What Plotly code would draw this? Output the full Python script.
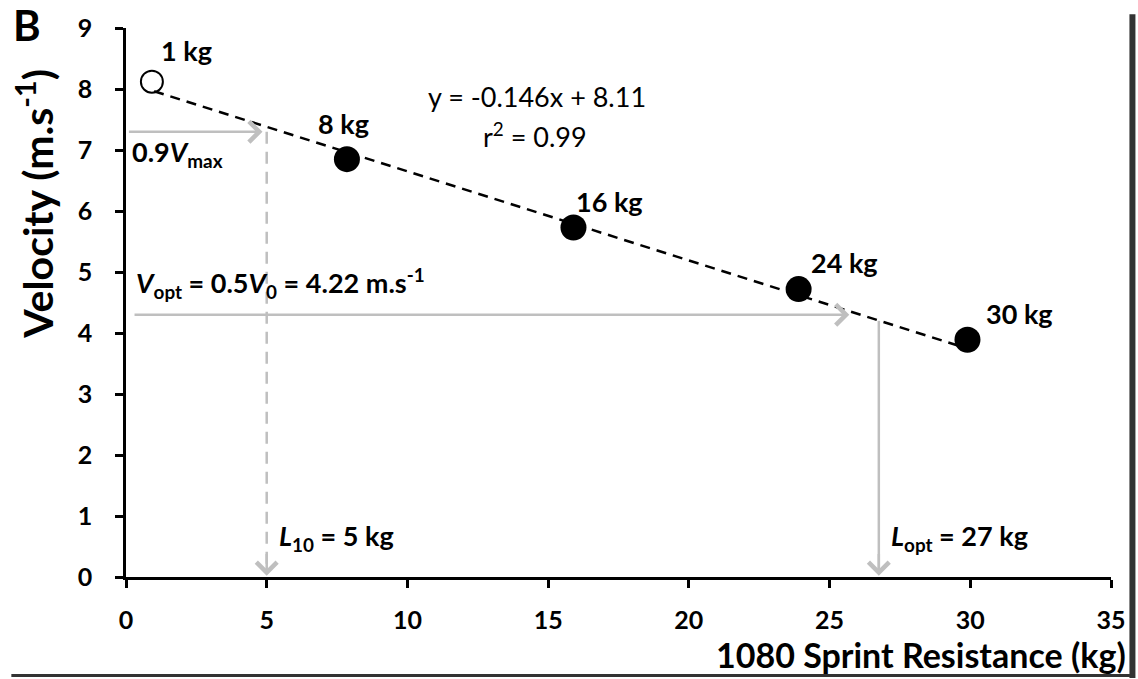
import plotly.graph_objects as go

# Sprint resistance loads and measured peak velocities
load_labels = ["1 kg", "8 kg", "16 kg", "24 kg", "30 kg"]
load_kg = [0.92, 7.85, 15.9, 23.9, 29.9]
velocity = [8.12, 6.85, 5.73, 4.72, 3.89]

# Linear load-velocity fit (y = slope * x + intercept)
slope = -0.146
intercept = 8.11
r_squared = 0.99
fit_range = [1, 30]

# Derived targets
v_max_frac = 0.9
l10_kg = 5
v_opt = 4.22
l_opt_kg = 27

x_ticks = [0, 5, 10, 15, 20, 25, 30, 35]
y_ticks = [0, 1, 2, 3, 4, 5, 6, 7, 8, 9]

W, H = 1138, 679
ML, MR, MT, MB = 126, 24, 23, 102
PW, PH = W - ML - MR, H - MT - MB

FONT = "Lato"
BLACK = "#000000"
GREY = "#bfbfbf"
LABEL_SIZE = 27


def px(xp):
    return (xp - ML) / PW


def py(yp):
    return 1 - (yp - MT) / PH


fig = go.Figure()

# Regression line
fit_y = [slope * x + intercept for x in fit_range]
fig.add_trace(go.Scatter(
    x=fit_range, y=fit_y, mode="lines",
    line=dict(color=BLACK, width=2.5, dash="10px,7px"),
    hoverinfo="skip", showlegend=False))

# 0.9 Vmax drop line (dashed, grey)
v09 = v_max_frac * intercept
fig.add_trace(go.Scatter(
    x=[l10_kg, l10_kg], y=[v09, 0.15], mode="lines",
    line=dict(color=GREY, width=2.5, dash="12px,8px"),
    hoverinfo="skip", showlegend=False))

# Lopt drop line (solid, grey)
fig.add_trace(go.Scatter(
    x=[26.75, 26.75], y=[4.2, 0.1], mode="lines",
    line=dict(color=GREY, width=2.5),
    hoverinfo="skip", showlegend=False))

# Points: lightest load as open circle, others filled
fig.add_trace(go.Scatter(
    x=load_kg[:1], y=velocity[:1], mode="markers",
    marker=dict(symbol="circle-open", size=22, color=BLACK, line=dict(width=2)),
    hoverinfo="skip", showlegend=False))
fig.add_trace(go.Scatter(
    x=load_kg[1:], y=velocity[1:], mode="markers",
    marker=dict(symbol="circle", size=26, color=BLACK),
    hoverinfo="skip", showlegend=False))

annotations = []

# Load labels next to each point
label_shift = [(35, 31), (-3, 36), (36, 26), (46, 27), (52, 26)]
for lab, x, y, (dx, dy) in zip(load_labels, load_kg, velocity, label_shift):
    annotations.append(dict(
        x=x, y=y, xref="x", yref="y", text=f"<b>{lab}</b>", showarrow=False,
        xshift=dx, yshift=dy, font=dict(family=FONT, size=LABEL_SIZE, color=BLACK)))

# Equation text
annotations.append(dict(
    x=14.6, y=7.87, xref="x", yref="y", showarrow=False,
    text=f"y = {slope}x + {intercept}",
    font=dict(family=FONT, size=27, color=BLACK)))
annotations.append(dict(
    x=14.55, y=7.24, xref="x", yref="y", showarrow=False,
    text=f"r<sup>2</sup> = {r_squared}",
    font=dict(family=FONT, size=27, color=BLACK)))

# Arrows
arrow_common = dict(xref="x", yref="y", axref="x", ayref="y", text="",
                    showarrow=True, arrowhead=4, arrowsize=1.6,
                    arrowwidth=2.5, arrowcolor=GREY)
annotations.append(dict(x=4.85, y=v09, ax=0.05, ay=v09, **arrow_common))
annotations.append(dict(x=l10_kg, y=0.02, ax=l10_kg, ay=0.4, **arrow_common))
annotations.append(dict(x=25.7, y=4.3, ax=0.25, ay=4.3, **arrow_common))
annotations.append(dict(x=26.75, y=0.02, ax=26.75, ay=0.4, **arrow_common))

# Arrow captions
annotations.append(dict(
    x=0.15, y=v09, xref="x", yref="y", xanchor="left", yanchor="top",
    yshift=-1, showarrow=False,
    text="<b>0.9<i>V</i><sub>max</sub></b>",
    font=dict(family=FONT, size=LABEL_SIZE, color=BLACK)))
annotations.append(dict(
    x=0.3, y=4.3, xref="x", yref="y", xanchor="left", yanchor="bottom",
    yshift=10, showarrow=False,
    text=f"<b><i>V</i><sub>opt</sub> = 0.5<i>V</i><sub>0</sub> = {v_opt} m.s<sup>-1</sup></b>",
    font=dict(family=FONT, size=LABEL_SIZE, color=BLACK)))
annotations.append(dict(
    x=l10_kg, y=0.65, xref="x", yref="y", xanchor="left",
    xshift=10, showarrow=False,
    text=f"<b><i>L</i><sub>10</sub> = {l10_kg} kg</b>",
    font=dict(family=FONT, size=LABEL_SIZE, color=BLACK)))
annotations.append(dict(
    x=26.75, y=0.65, xref="x", yref="y", xanchor="left",
    xshift=10, showarrow=False,
    text=f"<b><i>L</i><sub>opt</sub> = {l_opt_kg} kg</b>",
    font=dict(family=FONT, size=LABEL_SIZE, color=BLACK)))

# Axis titles and panel letter
annotations.append(dict(
    x=px(35), y=py(200), xref="paper", yref="paper", showarrow=False,
    xanchor="center", yanchor="middle",
    textangle=-90, text="<b>Velocity (m.s<sup>-1</sup>)</b>",
    font=dict(family=FONT, size=41, color=BLACK)))
annotations.append(dict(
    x=px(1131), y=py(655), xref="paper", yref="paper", showarrow=False,
    xanchor="right", yanchor="middle", text="<b>1080 Sprint Resistance (kg)</b>",
    font=dict(family=FONT, size=34, color=BLACK)))
annotations.append(dict(
    x=px(27), y=py(20), xref="paper", yref="paper", showarrow=False,
    xanchor="center", yanchor="middle", text="<b>B</b>",
    font=dict(family=FONT, size=42, color=BLACK)))

# Page frame edges
shapes = [
    dict(type="line", xref="paper", yref="paper",
         x0=px(1135.5), x1=px(1135.5), y0=py(679), y1=py(9),
         line=dict(color="#333333", width=6)),
    dict(type="line", xref="paper", yref="paper",
         x0=px(11), x1=px(1133), y0=py(676.5), y1=py(676.5),
         line=dict(color="#333333", width=3)),
]

fig.update_layout(
    width=W, height=H,
    margin=dict(l=ML, r=MR, t=MT, b=MB),
    paper_bgcolor="white", plot_bgcolor="white",
    showlegend=False,
    annotations=annotations,
    shapes=shapes,
    xaxis=dict(
        range=[0, 35], tickvals=x_ticks, showgrid=False, zeroline=False,
        showline=True, linecolor=BLACK, linewidth=2.5,
        ticks="outside", ticklen=8, tickwidth=2.5, tickcolor=BLACK,
        ticklabelstandoff=11,
        tickfont=dict(family=FONT, size=25, color=BLACK, weight="bold")),
    yaxis=dict(
        range=[0, 9], tickvals=y_ticks, showgrid=False, zeroline=False,
        showline=True, linecolor=BLACK, linewidth=2.5,
        ticks="outside", ticklen=8, tickwidth=2.5, tickcolor=BLACK,
        ticklabelstandoff=18,
        tickfont=dict(family=FONT, size=25, color=BLACK, weight="bold")),
)

fig.write_html("out.html")
